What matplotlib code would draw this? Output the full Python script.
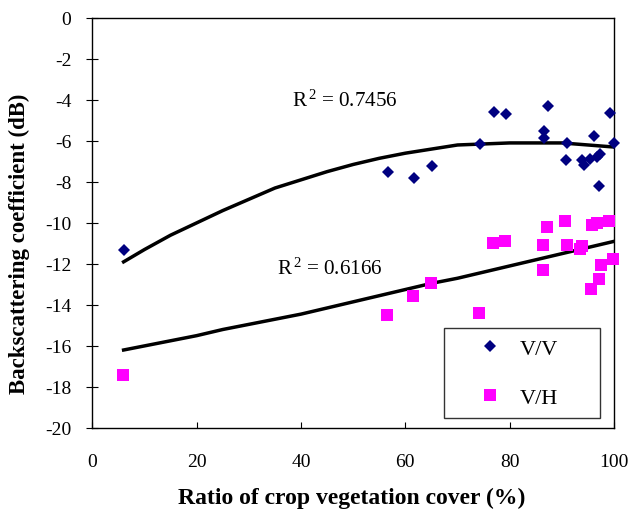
import numpy as np
import matplotlib
matplotlib.use("Agg")
import matplotlib.pyplot as plt

plt.rcParams['font.family'] = ['Liberation Serif', 'DejaVu Serif']
plt.rcParams['axes.unicode_minus'] = False
plt.rcParams['mathtext.fontset'] = 'custom'
plt.rcParams['mathtext.rm'] = 'Liberation Serif'
plt.rcParams['mathtext.it'] = 'Liberation Serif:italic'
plt.rcParams['mathtext.bf'] = 'Liberation Serif:bold'

# V/V backscatter (diamonds)
vv_x = [6.1, 56.7, 61.6, 65.1, 74.3, 76.9, 79.2, 87.3, 86.5, 86.5, 91.0, 90.8,
        93.8, 94.2, 95.4, 96.2, 96.7, 97.3, 97.2, 99.2, 100.0]
vv_y = [-11.3, -7.5, -7.8, -7.24, -6.15, -4.59, -4.68, -4.28, -5.53, -5.84, -6.12, -6.91,
        -6.93, -7.17, -6.88, -5.76, -6.8, -6.63, -8.18, -4.64, -6.12]

# V/H backscatter (squares)
vh_x = [5.8, 56.5, 61.4, 64.9, 74.1, 76.8, 79.0, 86.4, 86.4, 87.2, 90.6, 90.9,
        93.5, 93.9, 95.5, 95.8, 96.7, 97.1, 97.5, 99.0, 99.8]
vh_y = [-17.4, -14.47, -13.55, -12.93, -14.39, -10.98, -10.9, -11.07, -12.32, -10.2, -9.9, -11.07,
        -11.27, -11.15, -13.22, -10.08, -10.02, -12.73, -12.05, -9.9, -11.76]

# trend lines
trend_x = [6, 10, 15, 20, 25, 30, 35, 40, 45, 50, 55, 60, 65, 70, 75, 80, 85, 90, 95, 100]
vv_trend = [-11.9, -11.3, -10.6, -10.0, -9.4, -8.85, -8.3, -7.9, -7.5, -7.15, -6.85, -6.6,
            -6.4, -6.2, -6.15, -6.1, -6.1, -6.1, -6.2, -6.3]
vh_trend = [-16.2, -16.0, -15.75, -15.5, -15.2, -14.95, -14.7, -14.45, -14.15, -13.85, -13.55, -13.25,
            -12.95, -12.7, -12.4, -12.1, -11.8, -11.5, -11.2, -10.9]

fig = plt.figure(figsize=(6.41, 5.10), dpi=100)
ax = fig.add_axes([0.144, 0.159, 0.814, 0.804])

ax.plot(trend_x, vv_trend, color='black', lw=2.5, zorder=2)
ax.plot(trend_x, vh_trend, color='black', lw=2.5, zorder=2)
ax.plot(vv_x, vv_y, 'D', color='#000080', ms=6.6, mew=0, label='V/V', zorder=3, clip_on=False)
ax.plot(vh_x, vh_y, 's', color='#FF00FF', ms=8.6, mew=0, label='V/H', zorder=3, clip_on=False)

ax.text(38.3, -4.29, r'R$^{\,2}$ = 0.7456', fontsize=15.2, va='baseline')
ax.text(35.4, -12.49, r'R$^{\,2}$ = 0.6166', fontsize=15.2, va='baseline')

ax.set_xlim(0, 100)
ax.set_ylim(-20, 0)
ax.set_xticks(np.arange(0, 101, 20))
ax.set_yticks(np.arange(-20, 1, 2))
ax.tick_params(axis='y', direction='inout', length=8, labelsize=14, pad=11)
ax.tick_params(axis='x', direction='in', length=4.5, labelsize=14, pad=18)
for s in ax.spines.values():
    s.set_linewidth(1.0)

ax.set_xlabel('Ratio of crop vegetation cover (%)', fontsize=17, fontweight='bold', va='baseline')
ax.xaxis.set_label_coords(0.497, -0.183)
ax.set_ylabel('Backscattering coefficient (dB)', fontsize=16.5, fontweight='bold', va='center')
ax.yaxis.set_label_coords(-0.139, 0.452)

leg = ax.legend(loc='center', bbox_to_anchor=(0.674, 0.0195, 0.299, 0.229), mode='expand',
                borderaxespad=0, fontsize=16, frameon=True, fancybox=False, edgecolor='black',
                labelspacing=1.3, handletextpad=-0.27, borderpad=0.47, handlelength=3.2)
leg.get_frame().set_linewidth(1.0)

fig.savefig('out.png', dpi=100)
